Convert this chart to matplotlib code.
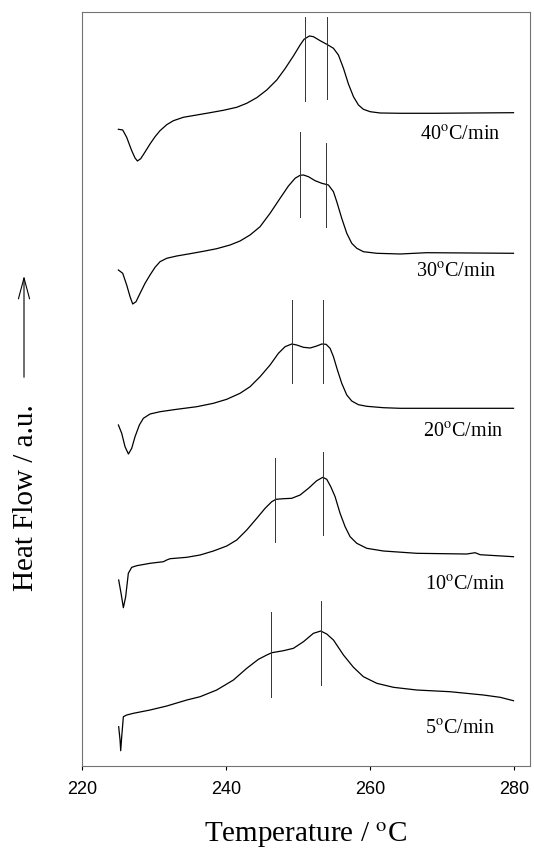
import matplotlib
matplotlib.use('Agg')
import matplotlib.pyplot as plt

plt.rcParams['mathtext.fontset'] = 'stix'

# DSC traces (temperature in C, heat flow in a.u., curves already stacked)
t_40 = [225.05, 225.65, 226.20, 226.90, 227.36, 227.69, 228.15, 228.75, 229.44, 230.14,
        230.83, 231.76, 232.69, 234.07, 235.93, 237.78, 239.63, 241.48, 242.87, 244.26,
        245.65, 247.04, 248.19, 249.35, 250.28, 250.83, 251.57, 252.13, 253.06, 253.98,
        254.91, 255.60, 256.30, 256.99, 257.69, 258.38, 259.07, 260.00, 261.39, 264.17,
        268.80, 279.91]
hf_40 = [636.7, 636.0, 628.7, 615.3, 608.0, 605.0, 607.3, 614.0, 622.0, 629.3,
         635.3, 641.3, 645.3, 648.7, 651.0, 653.3, 655.7, 658.7, 662.7, 668.3,
         676.0, 686.0, 697.3, 710.0, 721.0, 726.7, 730.0, 729.3, 725.3, 721.7,
         717.7, 711.0, 697.7, 682.0, 669.3, 661.0, 656.7, 654.3, 653.0, 652.7,
         652.7, 653.3]

t_30 = [225.05, 225.65, 226.20, 226.67, 227.04, 227.50, 228.06, 228.75, 229.44, 230.14,
        230.83, 231.76, 233.15, 235.00, 236.85, 238.70, 240.56, 241.94, 243.33, 244.72,
        246.11, 247.50, 248.66, 249.58, 250.28, 250.74, 251.44, 252.36, 253.29, 254.21,
        254.91, 255.37, 256.06, 256.76, 257.45, 258.15, 259.07, 260.93, 264.17, 267.87,
        279.91]
hf_30 = [496.0, 492.7, 481.0, 469.3, 462.0, 464.3, 472.7, 482.7, 491.0, 498.7,
         504.3, 507.7, 510.0, 512.3, 514.7, 517.3, 521.0, 525.0, 531.0, 539.3,
         552.7, 567.7, 580.0, 587.7, 590.7, 591.0, 589.3, 585.3, 582.7, 581.0,
         574.3, 564.3, 547.7, 532.7, 522.7, 517.7, 514.3, 512.7, 512.0, 513.3,
         512.7]

t_20 = [225.05, 225.51, 225.97, 226.44, 226.90, 227.36, 227.96, 228.52, 229.44, 230.83,
        233.15, 235.93, 238.24, 240.09, 241.94, 243.33, 244.72, 246.11, 247.27, 248.19,
        249.12, 249.81, 250.74, 251.67, 252.59, 253.29, 253.89, 254.44, 254.91, 255.46,
        256.06, 256.76, 257.45, 258.38, 259.54, 261.85, 264.17, 279.91]
hf_20 = [341.0, 332.7, 319.3, 312.0, 317.7, 329.3, 341.0, 347.7, 352.0, 354.3,
         356.7, 359.3, 362.7, 366.7, 372.7, 379.3, 389.3, 401.0, 412.7, 419.3,
         422.0, 421.0, 418.7, 418.0, 420.0, 422.0, 421.7, 417.7, 409.3, 396.0,
         382.7, 371.0, 365.0, 361.3, 359.7, 358.3, 357.7, 357.7]

t_10 = [225.09, 225.42, 225.74, 226.06, 226.43, 226.90, 227.59, 229.44, 231.30, 231.76,
        232.22, 234.54, 236.39, 238.24, 240.09, 241.48, 242.87, 244.26, 245.42, 246.34,
        246.94, 247.96, 249.12, 250.28, 251.44, 252.59, 253.43, 253.98, 254.54, 255.14,
        255.83, 256.53, 257.22, 258.15, 259.54, 261.85, 266.48, 273.43, 274.58, 275.28,
        279.91]
hf_10 = [186.0, 172.7, 158.3, 169.3, 192.7, 198.7, 200.3, 202.7, 204.3, 206.0,
         207.3, 208.7, 211.0, 215.0, 220.0, 226.0, 236.0, 247.7, 257.7, 264.3,
         266.7, 267.3, 267.7, 271.0, 277.7, 285.3, 288.7, 286.7, 279.3, 269.3,
         252.7, 239.3, 229.3, 222.7, 217.7, 215.0, 212.7, 212.0, 213.3, 211.3,
         209.3]

t_5 = [225.09, 225.28, 225.37, 225.51, 225.74, 226.20, 227.13, 229.44, 231.76, 234.54,
       236.39, 238.70, 241.02, 242.87, 244.49, 245.65, 246.34, 247.96, 249.35, 250.74,
       252.13, 253.15, 253.98, 254.91, 256.30, 257.69, 259.07, 260.93, 263.24, 266.48,
       271.11, 275.74, 278.06, 279.91]
hf_5 = [39.3, 26.0, 15.3, 29.3, 49.3, 51.0, 52.7, 56.0, 60.0, 66.0,
        69.3, 76.0, 86.0, 97.7, 106.7, 111.0, 113.3, 115.3, 117.7, 124.3,
        132.7, 135.0, 132.0, 126.0, 111.0, 98.7, 89.3, 82.7, 78.7, 76.0,
        74.3, 71.0, 68.7, 65.3]

# peak marker lines: temperature, bottom, top
marks_40 = [(250.9, 665, 749), (254.0, 667, 749)]
marks_30 = [(250.3, 549, 634), (253.85, 539, 623)]
marks_20 = [(249.1, 383, 466), (253.5, 383, 466)]
marks_10 = [(246.85, 224, 308), (253.4, 231, 314)]
marks_5 = [(246.2, 69, 154), (253.2, 81, 165)]

rates = ['40', '30', '20', '10', '5']
label_t = [266.94, 266.39, 267.36, 267.64, 267.64]
label_hf = [626, 489.3, 329.3, 176.7, 32]

fig = plt.figure(figsize=(5.34, 8.5), dpi=100)
ax = fig.add_axes([0.1536, 0.0988, 0.8389, 0.8871])

curves = [(t_40, hf_40), (t_30, hf_30), (t_20, hf_20), (t_10, hf_10), (t_5, hf_5)]
for t, hf in curves:
    ax.plot(t, hf, color='black', lw=0.9)

for marks in [marks_40, marks_30, marks_20, marks_10, marks_5]:
    for t, lo, hi in marks:
        ax.plot([t, t], [lo, hi], color='#333333', lw=0.7)

for r, lt, lh in zip(rates, label_t, label_hf):
    ax.text(lt, lh, r + r'$^{\rm o}$C/min', family='Liberation Serif', fontsize=14.5,
            ha='left', va='baseline')

ax.set_xlim(220, 282.2)
ax.set_ylim(0, 754)
ax.set_xticks([220, 240, 260, 280])
ax.set_yticks([])
ax.tick_params(axis='x', direction='out', length=3, width=0.8, pad=8,
               labelsize=13, colors='black')
for lbl in ax.get_xticklabels():
    lbl.set_family('Liberation Sans')
for s in ax.spines.values():
    s.set_color('0.45')
    s.set_linewidth(0.8)

ax.set_xlabel(r'Temperature / $^{\rm o}$C', family='Liberation Serif', fontsize=21, labelpad=16)

fig.text(0.049, 0.415, 'Heat Flow / a.u.', family='Liberation Serif', fontsize=21,
         rotation=90, ha='center', va='center')
fig.patches.append(matplotlib.patches.FancyArrowPatch(
    (24 / 534, 1 - 380 / 850), (24 / 534, 1 - 273 / 850), transform=fig.transFigure,
    arrowstyle='->,head_length=15,head_width=4', lw=0.8, color='black'))

plt.savefig('out.png', dpi=100)
